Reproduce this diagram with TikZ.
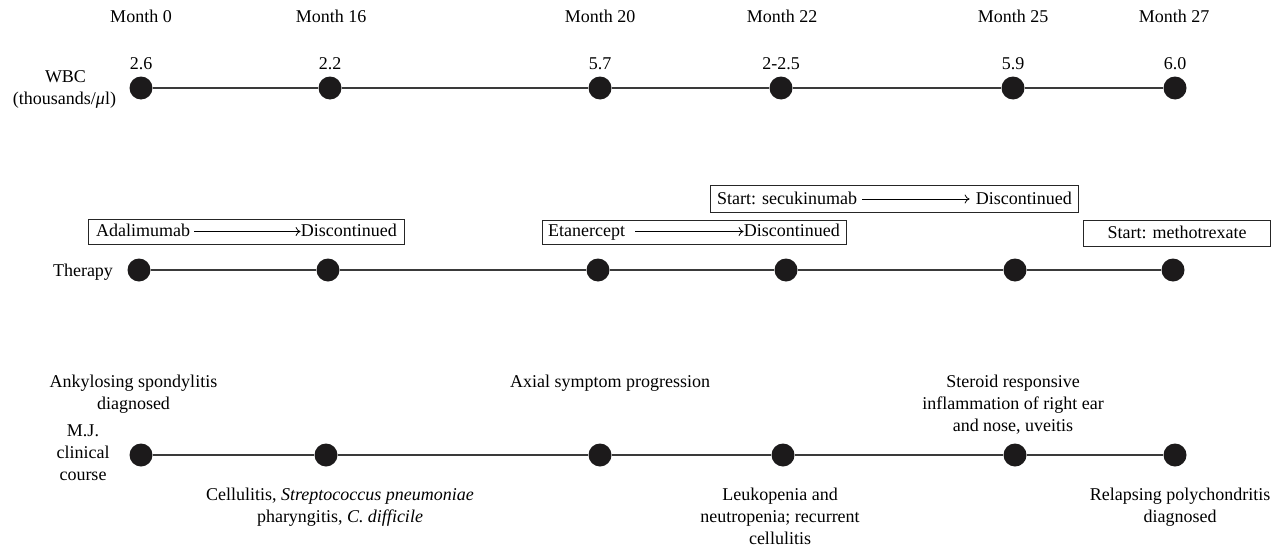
\documentclass[tikz,border=0pt]{standalone}
\usepackage{fontspec}
\setmainfont{Liberation Serif}
\usetikzlibrary{arrows.meta}
\definecolor{dotc}{HTML}{1C1A1B}
\definecolor{linec}{HTML}{3A3A3A}
\begin{document}
\begin{tikzpicture}[x=1pt,y=-1pt,
  font=\fontsize{18}{22}\selectfont,
  dot/.style={circle,fill=dotc,inner sep=0pt,minimum size=23pt},
  lbl/.style={inner sep=0pt,align=center},
  tl/.style={line width=1.1pt,draw=linec},
  tbox/.style={draw=black!85,line width=0.9pt,inner sep=0pt},
  btxt/.style={inner sep=0pt},
  arr/.style={-{To[length=5pt,width=9pt]},line width=0.8pt}]
\useasboundingbox (0,0) rectangle (1280,546);

% ---------- month labels ----------
\node[lbl,anchor=base] (m0) at (141,23) {Month 0};
\node[lbl,anchor=base] (m16) at (331,23) {Month 16};
\node[lbl,anchor=base] (m20) at (600,23) {Month 20};
\node[lbl,anchor=base] (m22) at (782,23) {Month 22};
\node[lbl,anchor=base] (m25) at (1013,23) {Month 25};
\node[lbl,anchor=base] (m27) at (1174,23) {Month 27};

% ---------- WBC row ----------
\node[lbl] (wbcA) at (65.5,77) {WBC};
\node[lbl] (wbcB) at (64.5,100) {(thousands/\textit{μ}l)};
\node[dot] (w1) at (141,88) {};
\node[dot] (w2) at (330,88) {};
\node[dot] (w3) at (600,88) {};
\node[dot] (w4) at (781,88) {};
\node[dot] (w5) at (1013,88) {};
\node[dot] (w6) at (1175,88) {};
\draw[tl] (w1) -- (w2) (w2) -- (w3) (w3) -- (w4) (w4) -- (w5) (w5) -- (w6);
\node[lbl,anchor=base] (v1) at (141,69) {2.6};
\node[lbl,anchor=base] (v2) at (330,69) {2.2};
\node[lbl,anchor=base] (v3) at (600,69) {5.7};
\node[lbl,anchor=base] (v4) at (781,69) {2-2.5};
\node[lbl,anchor=base] (v5) at (1013,69) {5.9};
\node[lbl,anchor=base] (v6) at (1175,69) {6.0};

% ---------- Therapy row ----------
\node[lbl,anchor=base] (thl) at (83,276) {Therapy};
\node[dot] (t1) at (139,270) {};
\node[dot] (t2) at (328,270) {};
\node[dot] (t3) at (598,270) {};
\node[dot] (t4) at (786,270) {};
\node[dot] (t5) at (1015,270) {};
\node[dot] (t6) at (1173,270) {};
\draw[tl] (t1) -- (t2) (t2) -- (t3) (t3) -- (t4) (t4) -- (t5) (t5) -- (t6);

% box 1: adalimumab
\node[tbox,minimum width=316.5pt,minimum height=24.7pt] (bx1) at (246.2,231.6) {};
\node[btxt,anchor=base west] (ada) at (96,236.5) {Adalimumab};
\node[btxt,anchor=base east] (dis1) at (397,236.5) {Discontinued};
\draw[arr] ([shift={(4,-5)}]ada.base east) -- ([shift={(0,-5)}]dis1.base west);

% box 2: etanercept
\node[tbox,minimum width=303.7pt,minimum height=23.8pt] (bx2) at (694.2,232.4) {};
\node[btxt,anchor=base west] (eta) at (548,236.5) {Etanercept};
\node[btxt,anchor=base east] (dis2) at (840,236.5) {Discontinued};
\draw[arr] ([shift={(10,-5)}]eta.base east) -- ([shift={(0,-5)}]dis2.base west);

% box 3: secukinumab
\node[tbox,minimum width=367.3pt,minimum height=27.7pt] (bx3) at (894.3,198.8) {};
\node[btxt,anchor=base west] (sec) at (717,204) {Start: secukinumab};
\node[btxt,anchor=base east] (dis3) at (1072,204) {Discontinued};
\draw[arr] ([shift={(5,-5)}]sec.base east) -- ([shift={(-6,-5)}]dis3.base west);

% box 4: methotrexate
\node[tbox,minimum width=187pt,minimum height=26pt] (bx4) at (1176.5,233.7) {};
\node[btxt,anchor=base] (met) at (1177,238.5) {Start: methotrexate};

% ---------- Clinical course row ----------
\node[lbl,anchor=north] (mj) at (83,424.5) {M.J.\\clinical\\course};
\node[dot] (c1) at (141,455) {};
\node[dot] (c2) at (326,455) {};
\node[dot] (c3) at (600,455) {};
\node[dot] (c4) at (783,455) {};
\node[dot] (c5) at (1015,455) {};
\node[dot] (c6) at (1175,455) {};
\draw[tl] (c1) -- (c2) (c2) -- (c3) (c3) -- (c4) (c4) -- (c5) (c5) -- (c6);

\node[lbl,anchor=north] (ev1) at (133.5,374.5) {Ankylosing spondylitis\\diagnosed};
\node[lbl,anchor=north] (ev3) at (610,374.5) {Axial symptom progression};
\node[lbl,anchor=north] (ev5) at (1013,374.5) {Steroid responsive\\inflammation of right ear\\and nose, uveitis};
\node[lbl,anchor=north] (ev2) at (340,487.5) {Cellulitis, \textit{Streptococcus pneumoniae}\\pharyngitis, \textit{C. difficile}};
\node[lbl,anchor=north] (ev4) at (780,487.5) {Leukopenia and\\neutropenia; recurrent\\cellulitis};
\node[lbl,anchor=north] (ev6) at (1180,487.5) {Relapsing polychondritis\\diagnosed};
\end{tikzpicture}
\end{document}
